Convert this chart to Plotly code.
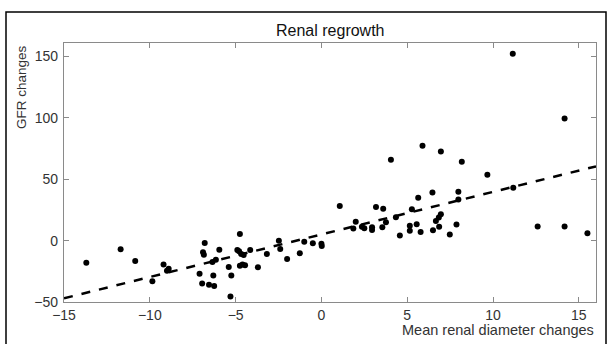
import plotly.graph_objects as go

# Scatter data: mean renal diameter changes vs GFR changes
diam_changes = [
    -13.7, -11.7, -10.85, -9.85, -9.2, -8.9, -9.0,
    -7.1, -6.95, -6.8, -6.9, -6.85, -6.55, -6.25, -6.3, -6.35, -6.15, -5.95,
    -5.4, -5.25, -5.3, -4.9, -4.75, -4.8, -4.67, -4.53, -4.75, -4.6, -4.45,
    -4.15, -3.7, -3.18, -2.48, -2.4, -2.0, -1.26, -1.0, -0.5, 0.0, 0.02,
    1.07, 2.0, 1.86, 2.36, 2.5, 2.95, 2.95, 3.18, 3.6, 3.55, 3.76, 4.05,
    4.34, 4.57, 5.15, 5.15, 5.27, 5.55, 5.64, 5.78, 5.89, 6.47, 6.5, 6.67,
    6.84, 6.96, 6.86, 6.96, 7.48, 7.87, 7.98, 7.98, 8.18, 9.67, 11.15,
    11.18, 12.6, 14.17, 14.17, 15.5,
]
gfr_changes = [
    -18, -7, -16.5, -33, -19.5, -23, -24.5,
    -27, -35, -2, -9.5, -11.5, -36, -37, -28.5, -17.5, -15.5, -7.5,
    -21.5, -28.5, -45.5, -7.6, 5.4, -8.7, -10.8, -11.8, -20.5, -19.5, -20,
    -7.6, -21.7, -10.8, 0, -6.8, -15, -10.3, -1, -2.2, -2.5, -4.3,
    28.3, 15.4, 9.8, 11.4, 10, 10.8, 8.7, 27.3, 26, 10.8, 14.9, 65.8,
    19, 4.1, 12.2, 8.1, 25.5, 13.3, 35, 7, 77.2, 39.3, 8.5, 16,
    18.8, 21.5, 11.4, 72.6, 4.9, 13.2, 39.8, 33.5, 64.3, 53.7, 152.3,
    43, 11.6, 99.4, 11.6, 6,
]

# Regression line end points
fit_x = [-15, 16]
fit_y = [-47, 60.5]

x_ticks = [-15, -10, -5, 0, 5, 10, 15]
y_ticks = [-50, 0, 50, 100, 150]

title_text = "Renal regrowth"
x_title = "Mean renal diameter changes"
y_title = "GFR changes"

FONT = "Liberation Sans, Arial, sans-serif"

fig = go.Figure()
fig.add_trace(go.Scatter(
    x=diam_changes, y=gfr_changes, mode="markers",
    marker=dict(color="black", size=6),
    showlegend=False,
))
fig.add_trace(go.Scatter(
    x=fit_x, y=fit_y, mode="lines",
    line=dict(color="black", width=2.5, dash="dash"),
    showlegend=False,
))

axis_common = dict(
    showgrid=False, zeroline=False, showline=True, mirror="ticks",
    linecolor="#8a8a8a", linewidth=1.2, ticks="inside", ticklen=5,
    tickcolor="#8a8a8a",
    tickfont=dict(family=FONT, size=14, color="#333"),
)

fig.update_layout(
    width=607, height=344,
    margin=dict(l=64, r=11, t=43, b=42),
    paper_bgcolor="white", plot_bgcolor="white",
    xaxis=dict(range=[-15, 16], tickvals=x_ticks, ticklabelstandoff=0, **axis_common),
    yaxis=dict(range=[-50, 161], tickvals=y_ticks, ticklabelstandoff=2, **axis_common),
    annotations=[
        dict(text=title_text, xref="paper", yref="paper", x=0.5, y=1.0,
             yshift=2, xanchor="center", yanchor="bottom", showarrow=False,
             font=dict(family=FONT, size=16, color="#111")),
        dict(text=x_title, xref="paper", yref="paper", x=1.0, y=0,
             yshift=-18, xanchor="right", yanchor="top", showarrow=False,
             font=dict(family=FONT, size=14.5, color="#333")),
        dict(text=y_title, xref="paper", yref="paper", x=0, y=1.0,
             xshift=-43, xanchor="center", yanchor="top", textangle=-90, showarrow=False,
             font=dict(family=FONT, size=13.5, color="#333")),
    ],
    shapes=[
        dict(type="rect", xref="paper", yref="paper",
             x0=(6 - 64) / 532, x1=(606 - 64) / 532,
             y0=(302 - 350) / 259, y1=(302 - 12) / 259,
             line=dict(color="black", width=1.5), fillcolor="rgba(0,0,0,0)", layer="below"),
    ],
)

fig.write_html("out.html", config={"displayModeBar": False},
               post_script="document.body.style.margin='0';document.body.style.padding='0';")
